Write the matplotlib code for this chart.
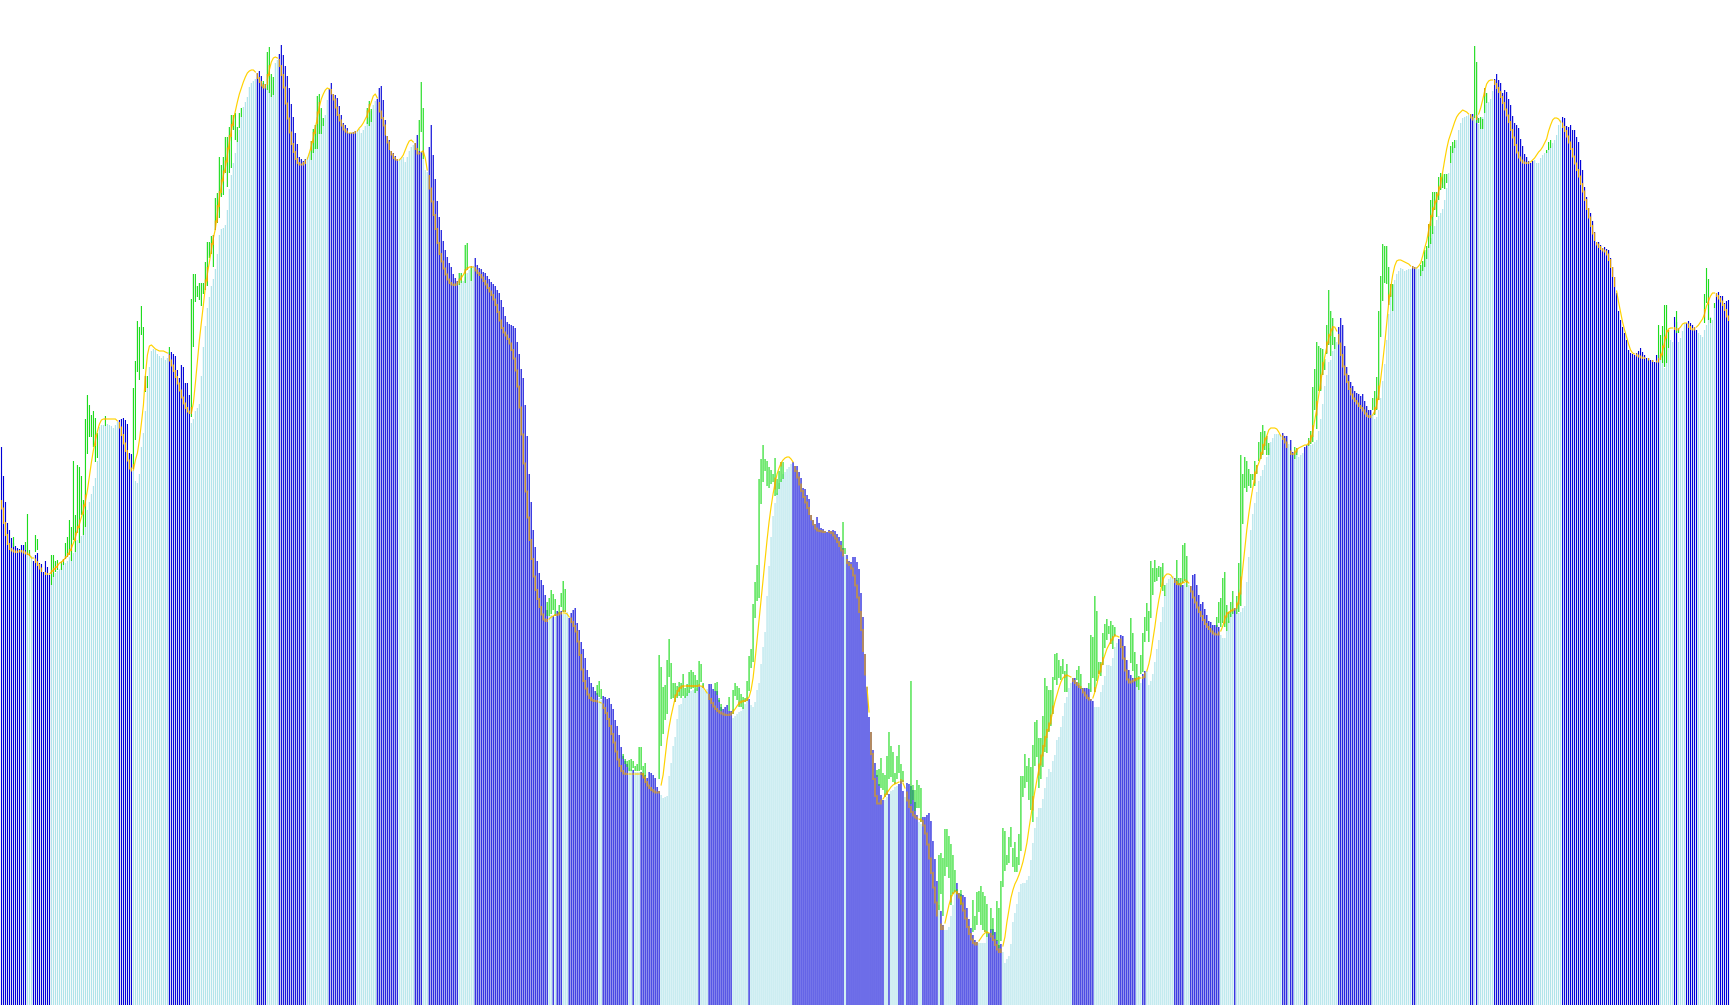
import numpy as np
import matplotlib.pyplot as plt

# closing level of each bar (chart units, 0 = bottom row of the plot)
close_lv = [
    553, 524, 498, 477, 470, 462, 457, 454, 452, 451,   # 0
    455, 455, 455, 446, 448, 444, 439, 445, 447, 437,
    436, 428, 439, 433, 425, 422, 425, 427, 429, 431,
    432, 435, 437, 439, 443, 445, 447, 450, 460, 458,
    464, 471, 478, 490, 498, 506, 514, 522, 539, 573,
    575, 575, 574, 576, 575, 574, 572, 575, 578, 580,   # 50
    581, 582, 580, 576, 547, 546, 530, 519, 517, 526,
    553, 567, 589, 624, 633, 649, 651, 650, 646, 644,
    642, 644, 640, 642, 648, 648, 646, 644, 630, 622,
    635, 633, 617, 617, 605, 577, 581, 589, 592, 596,
    624, 653, 674, 692, 703, 714, 721, 731, 746, 765,   # 100
    771, 772, 775, 790, 811, 825, 837, 847, 858, 870,
    883, 893, 898, 903, 913, 917, 919, 921, 927, 929,
    924, 917, 916, 910, 908, 905, 920, 937, 940, 946,
    955, 945, 934, 924, 912, 896, 883, 867, 856, 843,
    841, 839, 841, 843, 847, 853, 860, 872, 883, 894,   # 150
    891, 882, 885, 900, 911, 917, 906, 905, 902, 894,
    885, 877, 875, 872, 867, 867, 868, 869, 869, 871,
    867, 870, 874, 878, 883, 889, 895, 899, 901, 912,
    914, 900, 880, 864, 860, 849, 847, 844, 841, 840,
    841, 843, 838, 843, 849, 853, 855, 857, 865, 849,   # 200
    848, 841, 830, 828, 853, 875, 845, 821, 799, 783,
    770, 759, 750, 743, 737, 733, 726, 722, 719, 716,
    717, 719, 723, 727, 730, 732, 734, 742, 735, 732,
    731, 728, 727, 724, 721, 718, 716, 714, 710, 707,
    700, 693, 684, 678, 676, 675, 674, 672, 658, 646,   # 250
    631, 622, 595, 564, 526, 498, 470, 453, 439, 427,
    420, 415, 405, 390, 384, 385, 384, 383, 389, 388,
    389, 386, 386, 388, 382, 387, 390, 392, 377, 370,
    358, 351, 342, 330, 323, 317, 313, 309, 307, 302,
    300, 304, 303, 301, 302, 296, 291, 280, 274, 265,   # 300
    253, 244, 239, 236, 232, 231, 230, 228, 228, 228,
    228, 227, 225, 222, 228, 227, 225, 222, 213, 209,
    205, 202, 203, 204, 224, 237, 254, 263, 281, 295,
    296, 302, 304, 307, 310, 309, 310, 311, 312, 314,
    314, 316, 309, 311, 316, 316, 311, 309, 309, 300,   # 350
    293, 291, 293, 295, 289, 289, 282, 284, 286, 288,
    289, 293, 296, 299, 301, 295, 293, 298, 310, 317,
    336, 353, 368, 404, 434, 463, 484, 497, 507, 517,
    521, 526, 528, 531, 533, 536, 538, 534, 534, 528,
    522, 512, 511, 505, 501, 485, 480, 476, 483, 477,   # 400
    472, 471, 469, 468, 470, 469, 470, 469, 466, 463,
    459, 452, 445, 445, 439, 438, 443, 443, 438, 431,
    407, 383, 346, 313, 283, 268, 250, 237, 225, 216,
    205, 200, 200, 203, 206, 209, 210, 213, 214, 216,
    219, 209, 203, 217, 216, 214, 210, 198, 185, 178,   # 450
    176, 183, 183, 185, 187, 179, 159, 141, 119, 95,
    89, 75, 70, 70, 73, 84, 95, 110, 117, 107,
    106, 105, 103, 92, 81, 72, 65, 60, 58, 57,
    57, 57, 57, 63, 67, 71, 71, 68, 60, 55,
    56, 48, 37, 41, 44, 56, 78, 87, 96, 108,            # 500
    116, 117, 117, 120, 124, 140, 157, 172, 183, 192,
    192, 201, 212, 223, 231, 228, 239, 245, 260, 263,
    273, 284, 297, 303, 312, 317, 322, 322, 318, 315,
    312, 312, 312, 312, 311, 301, 299, 293, 293, 293,
    308, 315, 324, 335, 335, 334, 342, 353, 357, 361,   # 550
    365, 364, 354, 340, 330, 325, 322, 322, 320, 310,
    317, 326, 329, 329, 315, 319, 326, 338, 351, 360,
    378, 393, 405, 417, 421, 423, 424, 422, 420, 417,
    415, 415, 417, 413, 415, 414, 425, 426, 415, 405,
    396, 398, 391, 385, 379, 378, 375, 375, 375, 373,   # 600
    365, 362, 362, 369, 379, 386, 390, 392, 386, 387,
    388, 392, 394, 418, 443, 470, 486, 497, 508, 519,
    524, 530, 535, 543, 552, 558, 562, 566, 566, 566,
    564, 567, 564, 564, 556, 560, 548, 545, 550, 543,
    545, 547, 553, 555, 554, 555, 556, 558, 560, 569,   # 650
    581, 596, 614, 625, 638, 640, 649, 663, 658, 673,
    682, 675, 654, 633, 625, 618, 614, 609, 607, 606,
    604, 606, 599, 594, 590, 590, 585, 581, 583, 590,
    602, 619, 636, 660, 686, 705, 715, 720, 726, 729,
    732, 731, 729, 730, 731, 731, 734, 733, 733, 731,   # 700
    730, 738, 745, 750, 755, 762, 768, 774, 780, 784,
    787, 791, 800, 812, 827, 837, 853, 855, 860, 870,
    877, 882, 883, 884, 885, 886, 886, 882, 883, 876,
    882, 883, 895, 897, 898, 901, 909, 921, 926, 920,
    917, 907, 910, 908, 901, 895, 884, 877, 875, 872,   # 750
    861, 854, 846, 843, 839, 837, 839, 840, 837, 837,
    842, 845, 847, 848, 853, 852, 857, 860, 865, 875,
    880, 883, 882, 874, 873, 875, 870, 870, 863, 858,
    840, 830, 813, 803, 792, 787, 779, 768, 758, 758,
    755, 752, 753, 751, 750, 742, 733, 723, 707, 689,   # 800
    680, 673, 667, 660, 650, 647, 646, 645, 647, 649,
    652, 648, 645, 642, 642, 640, 640, 638, 645, 645,
    640, 640, 632, 650, 652, 660, 658, 683, 678, 658,
    662, 669, 677, 677, 679, 677, 675, 673, 670, 667,
    665, 663, 670, 675, 693, 683, 680, 693, 707, 708,   # 850
    704, 704, 697, 699, 700,
]

# moving average level per bar
ma_lv = [
    499, 484, 470, 460, 452, 450, 449, 448, 448, 449,   # 0
    449, 448, 447, 446, 445, 442, 442, 439, 437, 433,
    430, 428, 426, 426, 426, 428, 430, 432, 434, 437,
    438, 440, 442, 444, 448, 452, 457, 463, 470, 476,
    483, 490, 499, 510, 524, 538, 550, 560, 569, 576,
    580, 581, 581, 581, 581, 581, 581, 581, 579, 575,   # 50
    570, 560, 553, 545, 534, 529, 530, 540, 547, 560,
    577, 595, 625, 645, 654, 655, 653, 651, 650, 649,
    649, 649, 648, 647, 642, 637, 632, 626, 620, 613,
    606, 599, 594, 590, 587, 587, 597, 617, 639, 660,
    678, 697, 713, 726, 738, 750, 762, 771, 786, 802,   # 100
    814, 825, 832, 845, 858, 870, 880, 889, 898, 906,
    912, 918, 923, 927, 929, 930, 930, 928, 924, 920,
    916, 913, 912, 920, 930, 938, 942, 943, 942, 938,
    930, 920, 905, 888, 875, 860, 852, 844, 838, 836,
    835, 836, 838, 841, 847, 854, 862, 872, 882, 893,   # 150
    901, 906, 910, 912, 911, 909, 904, 897, 888, 882,
    877, 872, 869, 868, 867, 867, 867, 868, 869, 872,
    874, 877, 881, 885, 892, 898, 904, 906, 902, 892,
    885, 879, 870, 861, 854, 848, 843, 841, 840, 840,
    842, 845, 850, 855, 859, 860, 858, 854, 848, 845,   # 200
    848, 849, 842, 830, 818, 805, 792, 778, 764, 750,
    742, 735, 728, 723, 718, 716, 715, 715, 716, 719,
    722, 725, 729, 731, 733, 733, 733, 731, 728, 726,
    724, 721, 717, 714, 710, 707, 703, 698, 692, 684,
    675, 669, 666, 663, 659, 654, 646, 637, 622, 605,   # 250
    580, 551, 522, 495, 470, 450, 432, 415, 405, 397,
    389, 382, 379, 379, 381, 383, 384, 385, 385, 386,
    387, 387, 387, 386, 383, 380, 376, 372, 365, 352,
    338, 323, 315, 308, 303, 301, 299, 299, 299, 298,
    297, 294, 290, 284, 278, 270, 262, 253, 244, 237,   # 300
    231, 227, 226, 226, 226, 226, 226, 226, 226, 226,
    227, 225, 220, 216, 213, 211, 209, 208, 207, 208,
    215, 225, 243, 260, 273, 284, 293, 302, 307, 311,
    313, 314, 314, 314, 314, 314, 314, 314, 314, 314,
    314, 313, 310, 307, 303, 299, 295, 292, 290, 288,   # 350
    287, 286, 285, 285, 285, 286, 288, 291, 294, 297,
    298, 299, 299, 300, 303, 310, 322, 340, 360, 380,
    400, 420, 440, 460, 478, 493, 506, 517, 526, 532,
    537, 540, 542, 543, 543, 541, 538, 532, 526, 519,
    512, 506, 500, 495, 489, 483, 478, 473, 470, 469,   # 400
    469, 468, 468, 468, 468, 468, 466, 463, 460, 456,
    452, 447, 442, 438, 436, 434, 429, 420, 409, 396,
    380, 360, 338, 313, 288, 260, 232, 210, 198, 195,
    198, 201, 204, 207, 210, 213, 215, 216, 217, 218,
    218, 217, 212, 203, 196, 190, 186, 183, 182, 181,   # 450
    180, 178, 171, 162, 149, 134, 120, 105, 90, 79,
    72, 70, 77, 86, 95, 102, 106, 108, 108, 105,
    100, 93, 86, 77, 69, 63, 58, 56, 55, 59,
    62, 65, 67, 68, 67, 65, 62, 58, 52, 49,
    47, 54, 63, 78, 90, 102, 110, 116, 120, 125,        # 500
    131, 138, 147, 157, 171, 184, 197, 209, 220, 231,
    240, 249, 259, 267, 273, 280, 289, 298, 305, 312,
    318, 322, 324, 325, 324, 323, 320, 318, 316, 314,
    312, 309, 306, 303, 301, 300, 302, 308, 316, 325,
    332, 339, 345, 351, 355, 359, 362, 364, 364, 363,   # 550
    358, 348, 335, 324, 317, 318, 319, 320, 321, 322,
    322, 322, 324, 329, 336, 346, 360, 373, 388, 400,
    410, 420, 424, 426, 426, 425, 422, 419, 417, 415,
    416, 417, 418, 419, 417, 412, 405, 400, 395, 390,
    386, 382, 378, 374, 372, 370, 367, 366, 365, 366,   # 600
    369, 374, 381, 386, 388, 389, 390, 391, 393, 400,
    413, 432, 451, 470, 486, 500, 512, 523, 532, 537,
    543, 551, 559, 564, 570, 572, 572, 572, 571, 568,
    564, 563, 559, 556, 550, 547, 545, 547, 550, 552,
    553, 554, 555, 555, 557, 560, 568, 580, 591, 605,   # 650
    618, 631, 643, 653, 662, 668, 673, 673, 669, 661,
    652, 638, 629, 622, 614, 608, 603, 600, 598, 595,
    593, 591, 588, 585, 583, 583, 585, 589, 595, 606,
    621, 638, 656, 676, 697, 712, 725, 734, 739, 740,
    740, 739, 738, 737, 736, 734, 733, 732, 732, 734,   # 700
    737, 744, 752, 759, 770, 780, 788, 795, 802, 809,
    816, 828, 840, 851, 860, 866, 872, 878, 883, 886,
    888, 890, 889, 888, 886, 884, 881, 880, 882, 886,
    892, 900, 909, 916, 919, 920, 920, 918, 914, 910,
    906, 900, 894, 887, 882, 874, 866, 859, 851, 844,   # 750
    841, 838, 837, 837, 837, 838, 840, 842, 845, 848,
    850, 853, 857, 861, 869, 875, 880, 882, 882, 881,
    878, 875, 871, 867, 860, 855, 847, 840, 833, 827,
    820, 812, 805, 795, 787, 778, 770, 763, 757, 754,
    752, 750, 749, 748, 743, 737, 729, 719, 709, 698,   # 800
    688, 678, 670, 663, 656, 650, 647, 646, 645, 644,
    643, 642, 642, 642, 641, 640, 639, 639, 638, 639,
    642, 649, 658, 667, 671, 672, 672, 672, 670, 671,
    673, 676, 677, 677, 674, 672, 670, 671, 673, 675,
    678, 681, 686, 694, 699, 704, 707, 707, 705, 703,   # 850
    700, 697, 693, 687, 680,
]

# bar colour runs: 'B' falling (blue), 'C' rising (pale cyan)
trend_runs = [
    ('B', 13), ('C', 3), ('B', 9), ('C', 34), ('B', 7), ('C', 18), ('B', 11), ('C', 33),
    ('B', 5), ('C', 6), ('B', 14), ('C', 11), ('B', 14), ('C', 10), ('B', 11), ('C', 8),
    ('B', 4), ('C', 3), ('B', 15), ('C', 8), ('B', 37), ('C', 2), ('B', 1), ('C', 1),
    ('B', 3), ('C', 3), ('B', 15), ('C', 2), ('B', 13), ('C', 2), ('B', 1), ('C', 3),
    ('B', 10), ('C', 19), ('B', 1), ('C', 4), ('B', 12), ('C', 8), ('B', 1), ('C', 21),
    ('B', 26), ('C', 1), ('B', 19), ('C', 2), ('B', 1), ('C', 4), ('B', 3), ('C', 1),
    ('B', 6), ('C', 2), ('B', 8), ('C', 1), ('B', 2), ('C', 6), ('B', 11), ('C', 5),
    ('B', 7), ('C', 35), ('B', 11), ('C', 12), ('B', 9), ('C', 3), ('B', 2), ('C', 14),
    ('B', 5), ('C', 3), ('B', 15), ('C', 7), ('B', 1), ('C', 23), ('B', 3), ('C', 1),
    ('B', 2), ('C', 5), ('B', 2), ('C', 15), ('B', 17), ('C', 20), ('B', 2), ('C', 27),
    ('B', 2), ('C', 1), ('B', 1), ('C', 8), ('B', 20), ('C', 14), ('B', 49), ('C', 7),
    ('B', 2), ('C', 4), ('B', 6), ('C', 9), ('B', 7),
]

# green high-low wicks: bar index, high, low
wick_idx = [
    6, 12, 13, 14, 17, 18, 25, 26, 27, 28, 30, 31, 32, 33, 34, 35, 36, 37, 38, 39,
    40, 41, 42, 43, 44, 45, 46, 47, 48, 52, 66, 67, 68, 69, 70, 71, 72, 73, 84, 95,
    96, 97, 98, 99, 100, 101, 102, 103, 104, 105, 106, 107, 108, 109, 110, 111, 112, 113, 114, 115,
    116, 117, 118, 119, 120, 131, 133, 134, 135, 136, 155, 156, 157, 158, 159, 160, 161, 183, 184, 185,
    209, 210, 211, 229, 230, 232, 233, 235, 273, 274, 275, 276, 277, 279, 280, 281, 282, 298, 299, 300,
    311, 312, 313, 314, 315, 316, 317, 318, 319, 320, 321, 322, 329, 330, 331, 332, 333, 334, 335, 336,
    337, 338, 339, 340, 341, 342, 343, 344, 345, 346, 347, 348, 349, 350, 351, 357, 358, 359, 360, 364,
    366, 367, 368, 369, 370, 371, 372, 373, 374, 375, 376, 377, 378, 379, 380, 381, 382, 383, 384, 385,
    386, 387, 388, 389, 390, 391, 421, 422, 438, 439, 440, 441, 442, 443, 444, 445, 446, 447, 448, 449,
    450, 451, 455, 456, 457, 458, 459, 460, 469, 470, 471, 472, 473, 474, 475, 476, 477, 478, 480, 486,
    487, 488, 489, 490, 491, 492, 493, 495, 496, 498, 499, 500, 501, 502, 503, 504, 505, 506, 507, 508,
    509, 510, 511, 512, 513, 514, 515, 516, 517, 518, 519, 520, 521, 522, 523, 524, 525, 526, 527, 528,
    529, 530, 531, 532, 533, 538, 539, 540, 544, 545, 546, 547, 548, 549, 550, 551, 552, 553, 554, 555,
    556, 557, 565, 566, 567, 568, 569, 570, 571, 572, 573, 574, 575, 576, 577, 578, 579, 580, 581, 582,
    588, 589, 590, 591, 592, 593, 608, 609, 610, 611, 612, 613, 614, 615, 616, 618, 619, 620, 621, 622,
    623, 624, 625, 626, 627, 628, 629, 630, 631, 632, 633, 634, 647, 648, 654, 655, 656, 657, 658, 659,
    660, 661, 662, 663, 664, 665, 666, 667, 686, 687, 688, 689, 690, 691, 692, 693, 694, 695, 696, 710,
    711, 712, 713, 714, 715, 716, 717, 718, 719, 720, 721, 722, 723, 725, 726, 727, 737, 738, 739, 740,
    741, 742, 743, 773, 774, 775, 829, 830, 831, 832, 833, 834, 838, 839, 852, 853, 854, 855, 857,
]
wick_hi = [
    463, 458, 486, 450, 465, 461, 445, 445, 439, 440, 437, 441, 457, 463, 480, 473, 539, 485, 535, 533,
    524, 500, 581, 605, 595, 585, 589, 582, 567, 584, 612, 639, 679, 673, 694, 673, 624, 624, 653, 701,
    726, 726, 714, 717, 717, 717, 738, 758, 758, 764, 765, 802, 807, 843, 835, 843, 863, 863, 873, 885,
    885, 887, 873, 887, 892, 919, 948, 953, 926, 923, 859, 871, 875, 904, 906, 892, 882, 892, 899, 891,
    880, 918, 892, 727, 727, 755, 757, 732, 398, 402, 410, 406, 401, 395, 407, 419, 411, 315, 319, 311,
    246, 241, 239, 240, 241, 239, 234, 236, 253, 253, 234, 237, 345, 333, 313, 315, 340, 361, 337, 317,
    317, 314, 318, 317, 326, 312, 316, 328, 330, 328, 325, 320, 339, 336, 317, 317, 318, 302, 296, 303,
    310, 317, 314, 312, 306, 303, 302, 319, 344, 351, 396, 418, 435, 521, 541, 555, 541, 539, 533, 530,
    526, 542, 521, 529, 538, 538, 478, 452, 230, 231, 242, 227, 225, 244, 268, 254, 248, 227, 244, 255,
    236, 229, 319, 215, 210, 220, 215, 212, 145, 147, 142, 171, 171, 164, 156, 145, 130, 111, 110, 100,
    84, 108, 109, 114, 108, 104, 96, 92, 82, 99, 92, 119, 172, 169, 145, 163, 173, 152, 158, 143,
    166, 224, 224, 246, 234, 242, 233, 255, 278, 280, 262, 262, 284, 322, 314, 310, 310, 323, 346, 347,
    340, 334, 341, 329, 336, 330, 334, 326, 317, 365, 363, 404, 389, 338, 338, 367, 376, 381, 374, 379,
    375, 373, 382, 367, 348, 336, 324, 345, 367, 383, 397, 389, 439, 432, 440, 432, 434, 433, 437, 415,
    440, 422, 422, 455, 457, 444, 383, 398, 402, 422, 428, 395, 388, 398, 409, 404, 437, 545, 526, 543,
    539, 531, 526, 526, 539, 535, 558, 568, 575, 569, 564, 557, 553, 552, 562, 569, 613, 631, 658, 654,
    652, 651, 641, 675, 710, 689, 682, 663, 602, 609, 623, 689, 724, 756, 754, 754, 733, 716, 716, 735,
    739, 750, 754, 776, 800, 808, 808, 808, 823, 827, 826, 826, 826, 854, 858, 860, 954, 938, 882, 883,
    881, 912, 907, 850, 858, 860, 675, 665, 674, 695, 695, 670, 689, 671, 706, 732, 721, 682, 697,
]
wick_lo = [
    453, 450, 445, 444, 448, 450, 415, 423, 428, 430, 430, 435, 441, 443, 445, 439, 460, 448, 467, 457,
    485, 465, 473, 546, 563, 563, 553, 538, 542, 574, 531, 560, 628, 620, 665, 631, 608, 612, 646, 583,
    653, 698, 703, 700, 694, 706, 710, 714, 742, 746, 733, 770, 777, 782, 803, 805, 827, 813, 827, 832,
    870, 860, 858, 872, 883, 912, 910, 907, 903, 905, 840, 847, 851, 851, 866, 866, 874, 876, 874, 878,
    849, 868, 841, 715, 717, 717, 730, 719, 384, 384, 386, 390, 384, 386, 393, 388, 388, 305, 303, 301,
    241, 236, 233, 229, 229, 232, 229, 229, 229, 230, 224, 221, 221, 254, 266, 280, 286, 323, 301, 302,
    298, 302, 304, 302, 304, 302, 304, 307, 311, 312, 307, 309, 314, 318, 312, 309, 305, 298, 289, 289,
    286, 304, 300, 293, 293, 291, 298, 299, 309, 332, 338, 382, 399, 402, 496, 518, 529, 514, 512, 516,
    518, 504, 505, 511, 518, 521, 450, 446, 223, 214, 212, 210, 203, 205, 221, 223, 218, 216, 221, 227,
    219, 218, 196, 200, 189, 192, 192, 178, 90, 106, 84, 124, 133, 122, 95, 106, 108, 106, 95, 68,
    70, 75, 88, 75, 70, 68, 63, 70, 65, 59, 52, 59, 113, 129, 135, 137, 153, 133, 128, 128,
    135, 149, 203, 212, 218, 200, 190, 178, 234, 243, 212, 221, 233, 248, 247, 268, 274, 286, 320, 315,
    322, 320, 326, 308, 308, 320, 315, 311, 311, 308, 322, 308, 319, 326, 324, 335, 352, 360, 366, 356,
    351, 364, 337, 329, 319, 313, 310, 326, 328, 358, 369, 358, 382, 405, 418, 419, 423, 413, 409, 404,
    415, 415, 413, 417, 419, 413, 373, 377, 373, 377, 373, 369, 377, 383, 386, 386, 388, 394, 476, 512,
    508, 514, 512, 520, 514, 526, 539, 541, 545, 550, 545, 545, 541, 545, 554, 556, 558, 590, 571, 609,
    609, 625, 630, 646, 655, 644, 655, 651, 590, 585, 590, 600, 663, 699, 717, 716, 695, 703, 689, 724,
    729, 733, 741, 752, 756, 766, 790, 783, 800, 810, 812, 811, 817, 837, 847, 852, 882, 877, 877, 871,
    871, 887, 897, 847, 850, 852, 640, 640, 637, 633, 637, 652, 667, 667, 677, 697, 680, 677, 692,
]

BLUE = '#0000D8'
CYAN = '#AFE3EA'
GREEN = '#1EDC1E'
YELLOW = '#FFD200'
ORANGE = '#E6A100'
FLOOR = -5
BAR_W = 0.57   # just over one pixel column, soft edges

n = len(close_lv)
trend = ''.join(c * k for c, k in trend_runs)[:n]
close = np.array(close_lv, dtype=float)
ma = np.array(ma_lv[:n], dtype=float)
x = np.arange(n)
up = np.array([t == 'C' for t in trend])

fig = plt.figure(figsize=(17.30, 10.05), dpi=100)
ax = fig.add_axes([0, 0, 1, 1])
ax.set_xlim(-0.75, n - 0.25)
ax.set_ylim(FLOOR, 1000)
ax.axis('off')

bar_kw = dict(width=BAR_W, linewidth=0, snap=False)
ax.bar(x[up], close[up] - FLOOR, bottom=FLOOR, color=CYAN, zorder=1, **bar_kw)
ax.bar(x[~up], close[~up] - FLOOR, bottom=FLOOR, color=BLUE, zorder=2, **bar_kw)

wi = np.array(wick_idx)
whi = np.array(wick_hi, dtype=float)
wlo = np.array(wick_lo, dtype=float)
ax.bar(wi, whi - wlo, bottom=wlo, color=GREEN, zorder=3, **bar_kw)

# the average disappears behind falling bars and shows as orange ticks there
covered = (~up) & (ma < close)
ax.plot(x, np.where(covered, np.nan, ma), color=YELLOW, lw=0.85, zorder=4,
        solid_joinstyle='round')

mid = np.concatenate([[ma[0]], (ma[:-1] + ma[1:]) / 2, [ma[-1]]])
seg_lo = np.minimum(mid[:-1], mid[1:]) - 1
seg_hi = np.maximum(mid[:-1], mid[1:]) + 1
top = np.where(covered, np.minimum(seg_hi, close), np.nan)
ax.bar(x[covered], (top - seg_lo)[covered], bottom=seg_lo[covered],
       color=ORANGE, zorder=5, **bar_kw)

hit = (ma[wi] >= wlo - 1) & (ma[wi] <= whi + 1)
o_lo = np.maximum(seg_lo[wi], wlo)[hit]
o_hi = np.minimum(seg_hi[wi], whi)[hit]
ax.bar(wi[hit], np.maximum(o_hi - o_lo, 2), bottom=o_lo,
       color=ORANGE, zorder=5, **bar_kw)

fig.savefig('out.png', dpi=100)
